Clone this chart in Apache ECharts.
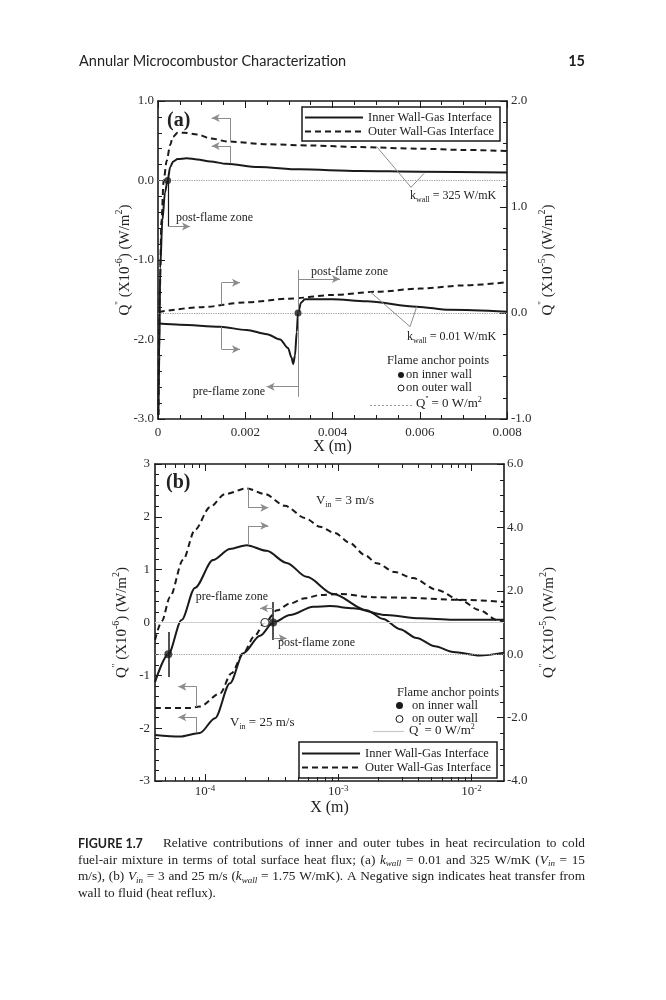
<!DOCTYPE html>
<html>
<head>
<meta charset="utf-8">
<script src="https://cdn.jsdelivr.net/npm/echarts@6.0.0/dist/echarts.min.js"></script>
<style>
    html, body { margin: 0; padding: 0; background: #fff; }
    #page { width: 666px; height: 1000px; }
</style>
</head>
<body>
<div id="page"></div>
<script type="text/javascript">
    var SERIF = "'Liberation Serif', 'DejaVu Serif', serif";
    var SANS = "Lato, 'Open Sans', sans-serif";
    var INK = '#1a1a1a';
    var GREY = '#8c8c8c';
    var NAME_IN = 'Inner Wall-Gas Interface';
    var NAME_OUT = 'Outer Wall-Gas Interface';

    // ---- panel (a): X in m; k=325 on left axis (x1e-6), k=0.01 on right axis (x1e-5)
    var aX325In = [0.00001, 0.00003, 0.00005, 0.0001, 0.00016, 0.00022, 0.00028, 0.00035, 0.00045, 0.00066, 0.0009, 0.0012, 0.00157, 0.0023, 0.00325, 0.0046, 0.006, 0.008];
    var aQ325In = [-2.95, -2.2, -1.1, -0.5, -0.15, 0, 0.17, 0.24, 0.27, 0.28, 0.265, 0.24, 0.21, 0.17, 0.14, 0.12, 0.11, 0.10];
    var aX325Out = [0.00001, 0.00004, 0.00008, 0.00013, 0.0002, 0.00028, 0.00034, 0.00045, 0.0006, 0.0009, 0.0012, 0.0016, 0.0025, 0.0035, 0.0046, 0.006, 0.007, 0.008];
    var aQ325Out = [-2.95, -1.4, -0.5, 0, 0.25, 0.45, 0.55, 0.6, 0.6, 0.58, 0.53, 0.49, 0.455, 0.44, 0.42, 0.40, 0.385, 0.37];
    var aX001In = [0.00002, 0.0005, 0.00142, 0.00203, 0.0025, 0.0028, 0.00298, 0.00306, 0.0031, 0.00314, 0.00318, 0.00321, 0.00328, 0.00337, 0.004, 0.00478, 0.00593, 0.00669, 0.008];
    var aQ001In = [-0.10, -0.11, -0.13, -0.16, -0.20, -0.25, -0.33, -0.42, -0.48, -0.40, -0.18, 0, 0.10, 0.13, 0.13, 0.11, 0.06, 0.03, 0.012];
    var aX001Out = [0.00002, 0.001, 0.002, 0.003, 0.004, 0.005, 0.006, 0.007, 0.008];
    var aQ001Out = [0.01, 0.055, 0.10, 0.135, 0.17, 0.20, 0.23, 0.26, 0.29];
    var aAnchor325 = [[0.00022, 0]];
    var aAnchor001 = [[0.00321, 0]];

    // ---- panel (b): X in m (log axis); Vin=3 on right axis (x1e-5), Vin=25 on left axis (x1e-6)
    var bX3In = [4.22e-5, 5.31e-5, 6.68e-5, 8.41e-5, 1.15e-4, 1.54e-4, 2.06e-4, 2.90e-4, 4.10e-4, 5.79e-4, 9.17e-4, 1.63e-3, 2.17e-3, 2.90e-3, 3.87e-3, 5.31e-3, 7.27e-3, 1.15e-2, 1.75e-2];
    var bQ3In = [-0.88, 0, 1.08, 2.09, 2.97, 3.32, 3.44, 3.26, 2.88, 2.44, 1.90, 1.39, 1.11, 0.79, 0.51, 0.25, 0.07, -0.04, 0.05];
    var bX3Out = [4.22e-5, 4.76e-5, 5.46e-5, 6.84e-5, 8.41e-5, 1.09e-4, 1.41e-4, 2.06e-4, 2.82e-4, 3.98e-4, 5.62e-4, 7.29e-4, 9.44e-4, 1.22e-3, 1.58e-3, 1.94e-3, 2.66e-3, 3.63e-3, 5.50e-3, 8.17e-3, 1.15e-2, 1.55e-2, 1.75e-2];
    var bQ3Out = [0.45, 1.05, 1.80, 2.97, 3.92, 4.64, 5.05, 5.23, 5.05, 4.68, 4.30, 4.02, 3.82, 3.51, 3.13, 2.87, 2.59, 2.40, 2.03, 1.71, 1.39, 1.08, 1.02];
    var bX25In = [4.22e-5, 6.49e-5, 9.17e-5, 1.19e-4, 1.54e-4, 1.94e-4, 2.59e-4, 3.25e-4, 4.34e-4, 6.49e-4, 8.66e-4, 1.29e-3, 2.30e-3, 4.09e-3, 7.27e-3, 1.75e-2];
    var bQ25In = [-2.13, -2.16, -2.09, -1.81, -1.15, -0.58, -0.25, 0, 0.14, 0.30, 0.31, 0.27, 0.14, 0.08, 0.05, 0.05];
    var bX25Out = [4.22e-5, 7.73e-5, 9.17e-5, 1.30e-4, 1.58e-4, 1.94e-4, 2.33e-4, 2.82e-4, 3.47e-4, 4.34e-4, 5.62e-4, 7.29e-4, 1.03e-3, 1.82e-3, 3.05e-3, 8.17e-3, 1.75e-2];
    var bQ25Out = [-1.62, -1.62, -1.59, -1.34, -0.96, -0.58, -0.27, 0, 0.23, 0.36, 0.46, 0.52, 0.54, 0.48, 0.47, 0.43, 0.39];
    var bAnchor3In = [[5.31e-5, 0]];
    var bAnchor25In = [[3.25e-4, 0]];
    var bAnchor25Out = [[2.82e-4, 0]];

    var bXMin = 4.22e-5, bXMax = 1.75e-2;
    var bDecades = [1e-4, 1e-3, 1e-2];

    var L = function (x) { return Math.log10(x); };
    var bLo = L(bXMin), bHi = L(bXMax);
    var bMajor = bDecades.map(function (d) { return Math.round(L(d)); });
    var bMinor = [];
    [-5, -4, -3, -2].forEach(function (e) {
        for (var k = 2; k <= 9; k++) {
            var v = e + L(k);
            if (v > bLo && v < bHi) bMinor.push(v);
        }
    });

    var pairs = function (xs, ys, logX) {
        return xs.map(function (x, i) { return [logX ? L(x) : x, ys[i]]; });
    };
    var logPts = function (pts) {
        return pts.map(function (p) { return [L(p[0]), p[1]]; });
    };

    // annotation helpers (data coordinates)
    var seg = function (p, q, color, width) {
        return [{ coord: p, symbol: 'none', lineStyle: { color: color || GREY, width: width || 1, type: 'solid' } },
                { coord: q, symbol: 'none' }];
    };
    var arrow = function (p, q) {
        return [{ coord: p, symbol: 'none', lineStyle: { color: GREY, width: 1, type: 'solid' } },
                { coord: q, symbol: 'arrow', symbolSize: [6, 8] }];
    };
    var marks = function (list) {
        return { silent: true, animation: false, symbol: 'none', label: { show: false }, emphasis: { disabled: true }, data: list };
    };
    var zeroLine = function (type, color) {
        return { yAxis: 0, lineStyle: { color: color, type: type, width: 1.2 } };
    };

    var supRich = function (size) {
        return {
            s: { fontFamily: SERIF, fontSize: size, lineHeight: size + 1, verticalAlign: 'top', color: '#222' }
        };
    };

    var axisBase = function (extra) {
        var o = {
            type: 'value',
            axisLine: { show: true, onZero: false, lineStyle: { color: INK, width: 1.6 } },
            axisTick: { show: true, inside: true, length: 7, lineStyle: { color: INK, width: 1 } },
            minorTick: { show: true, length: 4, lineStyle: { color: INK, width: 1 } },
            splitLine: { show: false },
            minorSplitLine: { show: false },
            nameMoveOverlap: false,
            axisLabel: { color: '#2a2a2a', fontFamily: SERIF, fontSize: 13 }
        };
        for (var k in extra) o[k] = extra[k];
        return o;
    };

    var yName = function (exp) {
        return "Q{s|''} (X10{s|" + exp + "}) (W/m{s|2})";
    };
    var yNameStyle = { color: '#222', fontFamily: SERIF, fontSize: 15, lineHeight: 22, rich: supRich(10) };
    var xNameStyle = { color: '#222', fontFamily: SERIF, fontSize: 16 };

    var lineBase = function (name, data, xi, yi, dashed, ml) {
        return {
            name: name, type: 'line', xAxisIndex: xi, yAxisIndex: yi, data: data,
            symbol: 'none', showSymbol: false, smooth: 0.3, smoothMonotone: 'x',
            lineStyle: { color: INK, width: 2, type: dashed ? [6, 4] : 'solid' },
            itemStyle: { color: INK },
            silent: true, animation: false, z: 3,
            markLine: ml
        };
    };
    var anchor = function (data, xi, yi, open, size) {
        return {
            name: open ? 'outer anchor' : 'inner anchor', type: 'scatter', xAxisIndex: xi, yAxisIndex: yi, data: data,
            symbol: 'circle', symbolSize: size,
            itemStyle: open ? { color: '#fff', borderColor: INK, borderWidth: 1.2 } : { color: INK },
            silent: true, animation: false, z: 6
        };
    };
    var legendBase = function (left, top, pad) {
        return {
            data: [NAME_IN, NAME_OUT], left: left, top: top, orient: 'vertical',
            itemGap: 1, itemWidth: 58, itemHeight: 12, padding: pad,
            borderColor: INK, borderWidth: 1.5, selectedMode: false,
            itemStyle: { color: 'rgba(0,0,0,0)', borderColor: 'rgba(0,0,0,0)', borderWidth: 0, opacity: 0 },
            textStyle: { color: '#222', fontFamily: SERIF, fontSize: 12.5 }
        };
    };

    var option = {
        animation: false,
        grid: [
            { left: 158, top: 101, width: 349, height: 318 },
            { left: 155, top: 464, width: 349, height: 317 }
        ],
        xAxis: [
            axisBase({
                gridIndex: 0, position: 'bottom', min: 0, max: 0.008, interval: 0.002,
                minorTick: { show: true, splitNumber: 4, length: 4, lineStyle: { color: INK, width: 1 } },
                axisLabel: { color: '#2a2a2a', fontFamily: SERIF, fontSize: 13, margin: 7,
                    formatter: function (v) { return v === 0 ? '0' : v.toFixed(3); } },
                name: 'X (m)', nameLocation: 'middle', nameGap: 20,
                nameTextStyle: xNameStyle
            }),
            axisBase({
                gridIndex: 0, position: 'top', min: 0, max: 0.008, interval: 0.002,
                minorTick: { show: true, splitNumber: 4, length: 4, lineStyle: { color: INK, width: 1 } },
                axisLabel: { show: false }
            }),
            axisBase({
                gridIndex: 1, position: 'bottom', min: bLo, max: bHi,
                axisTick: { show: true, inside: true, length: 7, customValues: bMajor, lineStyle: { color: INK, width: 1 } },
                minorTick: { show: false },
                axisLabel: { show: true, customValues: bMajor, margin: 3,
                    formatter: function (v) { return '{b|10}{s|' + Math.round(v) + '}'; },
                    rich: {
                        b: { fontFamily: SERIF, fontSize: 13, lineHeight: 16, color: '#2a2a2a' },
                        s: { fontFamily: SERIF, fontSize: 9, lineHeight: 10, verticalAlign: 'top', color: '#2a2a2a' }
                    } },
                name: 'X (m)', nameLocation: 'middle', nameGap: 19,
                nameTextStyle: xNameStyle
            }),
            axisBase({
                gridIndex: 1, position: 'bottom', min: bLo, max: bHi,
                axisLine: { show: false, onZero: false },
                axisTick: { show: true, inside: true, length: 4, customValues: bMinor, lineStyle: { color: INK, width: 1 } },
                minorTick: { show: false }, axisLabel: { show: false }
            }),
            axisBase({
                gridIndex: 1, position: 'top', min: bLo, max: bHi,
                axisTick: { show: true, inside: true, length: 7, customValues: bMajor, lineStyle: { color: INK, width: 1 } },
                minorTick: { show: false }, axisLabel: { show: false }
            }),
            axisBase({
                gridIndex: 1, position: 'top', min: bLo, max: bHi,
                axisLine: { show: false, onZero: false },
                axisTick: { show: true, inside: true, length: 4, customValues: bMinor, lineStyle: { color: INK, width: 1 } },
                minorTick: { show: false }, axisLabel: { show: false }
            })
        ],
        yAxis: [
            axisBase({
                gridIndex: 0, position: 'left', min: -3, max: 1, interval: 1,
                minorTick: { show: true, splitNumber: 5, length: 4, lineStyle: { color: INK, width: 1 } },
                axisLabel: { color: '#2a2a2a', fontFamily: SERIF, fontSize: 13, margin: 4,
                    formatter: function (v) { return v.toFixed(1); } },
                name: yName('-6'), nameLocation: 'middle', nameGap: 22, nameRotate: 90,
                nameTextStyle: yNameStyle
            }),
            axisBase({
                gridIndex: 0, position: 'right', min: -1, max: 2, interval: 1,
                minorTick: { show: true, splitNumber: 5, length: 4, lineStyle: { color: INK, width: 1 } },
                axisLabel: { color: '#2a2a2a', fontFamily: SERIF, fontSize: 13, margin: 4,
                    formatter: function (v) { return v.toFixed(1); } },
                name: yName('-5'), nameLocation: 'middle', nameGap: 30, nameRotate: 90,
                nameTextStyle: yNameStyle
            }),
            axisBase({
                gridIndex: 1, position: 'left', min: -3, max: 3, interval: 1,
                minorTick: { show: true, splitNumber: 5, length: 4, lineStyle: { color: INK, width: 1 } },
                axisLabel: { color: '#2a2a2a', fontFamily: SERIF, fontSize: 13, margin: 5,
                    formatter: function (v) { return String(v); } },
                name: yName('-6'), nameLocation: 'middle', nameGap: 22, nameRotate: 90,
                nameTextStyle: yNameStyle
            }),
            axisBase({
                gridIndex: 1, position: 'right', min: -4, max: 6, interval: 2,
                minorTick: { show: true, splitNumber: 4, length: 4, lineStyle: { color: INK, width: 1 } },
                axisLabel: { color: '#2a2a2a', fontFamily: SERIF, fontSize: 13, margin: 3,
                    formatter: function (v) { return v.toFixed(1); } },
                name: yName('-5'), nameLocation: 'middle', nameGap: 34, nameRotate: 90,
                nameTextStyle: yNameStyle
            })
        ],
        legend: [
            legendBase(302, 107, [4, 6, 3, 2]),
            legendBase(299, 742, [5, 6, 4, 2])
        ],
        series: [
            // (a) k_wall = 325 W/mK, left axis
            lineBase(NAME_IN, pairs(aX325In, aQ325In), 0, 0, false, marks([
                zeroLine('dotted', '#9a9a9a'),
                seg([0.001667, 0.434], [0.001667, 0.216]),
                arrow([0.001667, 0.434], [0.00123, 0.434]),
                seg([0.0061, 0.09], [0.0058, -0.086]),
                seg([0.000229, 0], [0.000229, -0.58], INK, 1.2),
                arrow([0.000229, -0.58], [0.000734, -0.58])
            ])),
            lineBase(NAME_OUT, pairs(aX325Out, aQ325Out), 0, 0, true, marks([
                seg([0.001667, 0.786], [0.001667, 0.50]),
                arrow([0.001667, 0.786], [0.00123, 0.786]),
                seg([0.005013, 0.425], [0.0058, -0.086])
            ])),
            // (a) k_wall = 0.01 W/mK, right axis
            lineBase(NAME_IN, pairs(aX001In, aQ001In), 0, 1, false, marks([
                zeroLine('dotted', '#9a9a9a'),
                seg([0.00146, -0.13], [0.00146, -0.342]),
                arrow([0.00146, -0.342], [0.00188, -0.342]),
                seg([0.003216, 0.406], [0.003216, -0.79]),
                arrow([0.003216, 0.321], [0.00417, 0.321]),
                arrow([0.003216, -0.695], [0.00249, -0.695]),
                seg([0.00593, 0.06], [0.005777, -0.129])
            ])),
            lineBase(NAME_OUT, pairs(aX001Out, aQ001Out), 0, 1, true, marks([
                seg([0.00146, 0.075], [0.00146, 0.286]),
                arrow([0.00146, 0.286], [0.00188, 0.286]),
                seg([0.00486, 0.201], [0.005777, -0.129])
            ])),
            anchor(aAnchor325, 0, 0, false, 7),
            anchor(aAnchor001, 0, 1, false, 7),

            // (b) Vin = 3 m/s, right axis
            lineBase(NAME_IN, pairs(bX3In, bQ3In, true), 2, 3, false, marks([
                zeroLine('dotted', '#a0a0a0'),
                seg([L(2.11e-4), 4.05], [L(2.11e-4), 3.44]),
                arrow([L(2.11e-4), 4.05], [L(2.99e-4), 4.05]),
                seg([L(5.31e-5), 0.70], [L(5.31e-5), -0.72], INK, 1.5)
            ])),
            lineBase(NAME_OUT, pairs(bX3Out, bQ3Out, true), 2, 3, true, marks([
                seg([L(2.11e-4), 5.23], [L(2.11e-4), 4.62]),
                arrow([L(2.11e-4), 4.62], [L(2.99e-4), 4.62])
            ])),
            // (b) Vin = 25 m/s, left axis
            lineBase(NAME_IN, pairs(bX25In, bQ25In, true), 2, 2, false, marks([
                zeroLine('solid', '#cfcfcf'),
                seg([L(8.67e-5), -1.795], [L(8.67e-5), -2.08]),
                arrow([L(8.67e-5), -1.795], [L(6.31e-5), -1.795]),
                seg([L(3.25e-4), 0.39], [L(3.25e-4), -0.33], INK, 1.5),
                arrow([L(3.25e-4), 0.27], [L(2.59e-4), 0.27]),
                arrow([L(3.25e-4), -0.30], [L(4.10e-4), -0.30])
            ])),
            lineBase(NAME_OUT, pairs(bX25Out, bQ25Out, true), 2, 2, true, marks([
                seg([L(8.67e-5), -1.215], [L(8.67e-5), -1.6]),
                arrow([L(8.67e-5), -1.215], [L(6.31e-5), -1.215])
            ])),
            anchor(logPts(bAnchor3In), 2, 3, false, 8),
            anchor(logPts(bAnchor25In), 2, 2, false, 8),
            anchor(logPts(bAnchor25Out), 2, 2, true, 8)
        ]
    };

    // ---- text and legend samples
    var subRich = function (size) {
        return {
            sub: { fontFamily: SERIF, fontSize: size, lineHeight: size, verticalAlign: 'bottom', fill: '#222' },
            sup: { fontFamily: SERIF, fontSize: size, lineHeight: size, verticalAlign: 'top', fill: '#222' }
        };
    };
    var txt = function (x, y, text, o) {
        o = o || {};
        return {
            type: 'text', x: x, y: y, silent: true, z: 20,
            style: {
                text: text, fill: o.fill || '#222',
                fontFamily: o.family || SERIF, fontSize: o.size || 12,
                fontWeight: o.weight || 'normal', lineHeight: o.lh || 16,
                align: o.align || 'left', verticalAlign: 'middle',
                rich: o.rich || subRich(8)
            }
        };
    };
    var dot = function (cx, cy, r, open) {
        return { type: 'circle', silent: true, z: 20, shape: { cx: cx, cy: cy, r: r },
            style: open ? { fill: '#fff', stroke: INK, lineWidth: 1 } : { fill: INK } };
    };
    var hline = function (x1, x2, y, dash, color) {
        return { type: 'line', silent: true, z: 20, shape: { x1: x1, y1: y, x2: x2, y2: y },
            style: { stroke: color, lineWidth: 1.2, lineDash: dash } };
    };

    // caption, justified word by word
    var CAP = 13.3;
    var capFonts = {
        base: CAP + 'px ' + SERIF,
        i: 'italic ' + CAP + 'px ' + SERIF,
        sub: 'italic 9px ' + SERIF
    };
    var capRich = {
        i: { fontFamily: SERIF, fontSize: CAP, fontStyle: 'italic', lineHeight: 16, fill: '#222' },
        sub: { fontFamily: SERIF, fontSize: 9, fontStyle: 'italic', lineHeight: 9, verticalAlign: 'bottom', fill: '#222' }
    };
    var mctx = document.createElement('canvas').getContext('2d');
    var measure = function (s, font) { mctx.font = font; return mctx.measureText(s).width; };
    var wordWidth = function (w) {
        var total = 0;
        w.replace(/\{(\w+)\|([^}]*)\}|([^{]+)/g, function (m, tag, t, plain) {
            total += tag ? measure(t, capFonts[tag]) : measure(plain, capFonts.base);
            return m;
        });
        return total;
    };
    var capLine = function (line, x0, x1, y, stretch) {
        var words = line.split(' ');
        var widths = words.map(wordWidth);
        var sum = widths.reduce(function (a, b) { return a + b; }, 0);
        var gap = stretch ? (x1 - x0 - sum) / (words.length - 1) : measure(' ', capFonts.base);
        var x = x0, out = [];
        words.forEach(function (w, i) {
            out.push(txt(x, y, w, { size: CAP, rich: capRich }));
            x += widths[i] + gap;
        });
        return out;
    };
    var capLines = [
        'Relative contributions of inner and outer tubes in heat recirculation to cold',
        'fuel-air mixture in terms of total surface heat flux; (a) {i|k}{sub|wall} = 0.01 and 325 W/mK ({i|V}{sub|in} = 15',
        'm/s), (b) {i|V}{sub|in} = 3 and 25 m/s ({i|k}{sub|wall} = 1.75 W/mK). A Negative sign indicates heat transfer from',
        'wall to fluid (heat reflux).'
    ];

    option.graphic = [
        txt(79, 61, 'Annular Microcombustor Characterization', { family: SANS, size: 14.5, fill: '#222' }),
        txt(585, 61, '15', { family: SANS, size: 14.5, weight: 'bold', align: 'right' }),

        // panel (a)
        txt(167, 121, '(a)', { size: 20, weight: 'bold' }),
        txt(176, 218, 'post-flame zone'),
        txt(311, 272, 'post-flame zone'),
        txt(265, 392, 'pre-flame zone', { align: 'right' }),
        txt(410, 196, 'k{sub|wall} = 325 W/mK'),
        txt(407, 337, 'k{sub|wall} = 0.01 W/mK'),
        txt(438, 361, 'Flame anchor points', { align: 'center', size: 12.5 }),
        dot(401, 375, 3, false),
        txt(406, 375, 'on inner wall', { size: 12.5 }),
        dot(401, 388, 3, true),
        txt(406, 388, 'on outer wall', { size: 12.5 }),
        hline(370, 414, 405.5, [2, 2], '#9a9a9a'),
        txt(416, 404, "Q{sup|''} = 0 W/m{sup|2}", { size: 13 }),

        // panel (b)
        txt(166, 483, '(b)', { size: 20, weight: 'bold' }),
        txt(316, 501, 'V{sub|in} = 3 m/s', { size: 13 }),
        txt(230, 723, 'V{sub|in} = 25 m/s', { size: 13 }),
        txt(268, 597, 'pre-flame zone', { align: 'right' }),
        txt(278, 643, 'post-flame zone'),
        txt(397, 693, 'Flame anchor points', { size: 12.5 }),
        dot(399.5, 705.5, 3.5, false),
        txt(412, 705.5, 'on inner wall', { size: 12.5 }),
        dot(399.5, 719, 3.5, true),
        txt(412, 718.5, 'on outer wall', { size: 12.5 }),
        hline(373, 404, 731.5, null, '#c8c8c8'),
        txt(409, 730.5, "Q{sup|''} = 0 W/m{sup|2}", { size: 13 }),

        // caption
        txt(78, 844, 'FIGURE 1.7', { family: SANS, size: 12.5, weight: 'bold' })
    ]
        .concat(capLine(capLines[0], 163, 585, 844, true))
        .concat(capLine(capLines[1], 78, 585, 860.6, true))
        .concat(capLine(capLines[2], 78, 585, 876.8, true))
        .concat(capLine(capLines[3], 78, 585, 893.2, false));

    var chart = echarts.init(document.getElementById('page'), null, { renderer: 'canvas' });
    chart.setOption(option);
</script>
</body>
</html>
